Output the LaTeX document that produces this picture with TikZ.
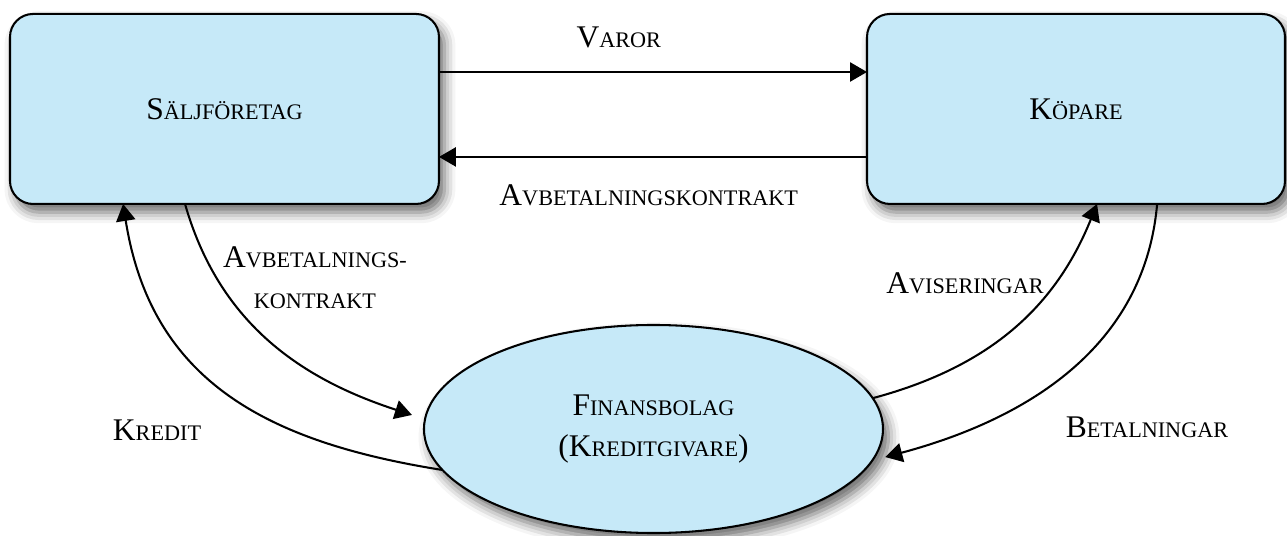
\documentclass[tikz,border=0pt]{standalone}
\usepackage{fontspec}
\setmainfont{Liberation Serif}
\usetikzlibrary{shapes.geometric,arrows.meta,shadows.blur}
\definecolor{boxblue}{RGB}{198,233,248}
\newcommand{\ksc}[2]{#1{\fontsize{8.1pt}{15pt}\selectfont #2}}
\begin{document}
\begin{tikzpicture}[inner sep=0pt,outer sep=0pt,line width=0.75pt,
>={Triangle[length=6.2pt,width=7pt]},
every node/.style={font=\fontsize{11.5pt}{15pt}\selectfont},
firm/.style={draw,rectangle,rounded corners=0.295cm,fill=boxblue,minimum height=2.436cm,
  blur shadow={shadow xshift=2pt,shadow yshift=-3pt,shadow blur radius=4pt,shadow opacity=60}},
lender/.style={draw,ellipse,fill=boxblue,minimum width=5.885cm,minimum height=2.667cm,align=center,
  blur shadow={shadow xshift=2pt,shadow yshift=-3pt,shadow blur radius=4pt,shadow opacity=60}}]
\useasboundingbox (0,0) rectangle (16.5,6.859);
\draw (2.878,5.462) node[firm,minimum width=5.5cm] (sal) {\ksc{S}{ÄLJFÖRETAG}};
\draw (13.795,5.462) node[firm,minimum width=5.359cm] (kop) {\ksc{K}{ÖPARE}};
\draw (8.378,1.359) node[lender] (fin) {\ksc{F}{INANSBOLAG}\\(\ksc{K}{REDITGIVARE})};
\draw[->] ([yshift=0.474cm]sal.east) -- node[pos=0.42,above=0.31cm] (varor) {\ksc{V}{AROR}} ([yshift=0.474cm]kop.west);
\draw[->] ([yshift=-0.615cm]kop.west) -- node[pos=0.51,below=0.35cm] (kontrakt) {\ksc{A}{VBETALNINGSKONTRAKT}} ([yshift=-0.615cm]sal.east);
\draw[->] ([xshift=-0.506cm]sal.south) to[out=-74,in=162] ([shift={(-0.154,0.18)}]fin.west);
\draw[->] (fin.191) to[out=171,in=-81,looseness=1.1] ([xshift=-1.3cm]sal.south);
\draw[->] (fin.8) to[out=15,in=-112] ([xshift=0.27cm]kop.south);
\draw[->] ([xshift=1.04cm]kop.south) to[out=-95,in=15] ([shift={(0.03,-0.36)}]fin.east);
\node[align=center] (avbkontrakt) at (4.038,3.301) {\ksc{A}{VBETALNINGS-}\\\ksc{}{KONTRAKT}};
\node (kredit) at (2.013,1.346) {\ksc{K}{REDIT}};
\node (avisering) at (12.372,3.231) {\ksc{A}{VISERINGAR}};
\node (betalning) at (14.705,1.385) {\ksc{B}{ETALNINGAR}};
\end{tikzpicture}
\end{document}
